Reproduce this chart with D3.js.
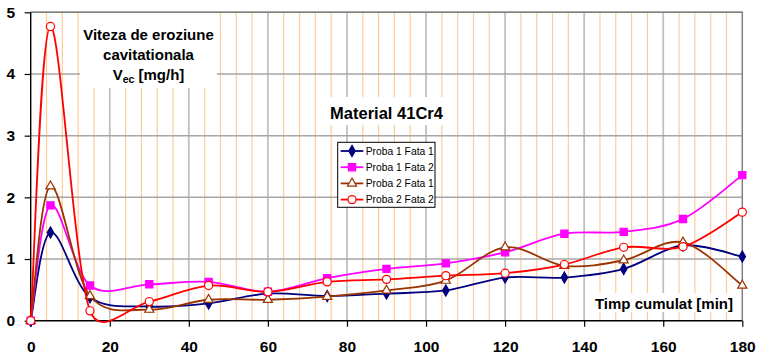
<!DOCTYPE html>
<html>
<head>
<meta charset="utf-8">
<script src="https://cdn.jsdelivr.net/npm/d3@7"></script>
<style>
  body { margin: 0; background: #fff; }
  svg { display: block; font-family: "Liberation Sans", Arial, sans-serif; }
</style>
</head>
<body>
<div id="chart"></div>
<script>
// Données (V_ec en mg/h)
const timp = [0, 5, 15, 30, 45, 60, 75, 90, 105, 120, 135, 150, 165, 180];
const proba1Fata1 = [0, 1.43, 0.38, 0.23, 0.28, 0.44, 0.40, 0.44, 0.49, 0.70, 0.70, 0.84, 1.22, 1.04];
const proba1Fata2 = [0, 1.87, 0.57, 0.59, 0.63, 0.47, 0.69, 0.84, 0.93, 1.11, 1.41, 1.44, 1.65, 2.36];
const proba2Fata1 = [0, 2.18, 0.40, 0.18, 0.34, 0.34, 0.39, 0.49, 0.65, 1.19, 0.89, 0.98, 1.27, 0.57];
const proba2Fata2 = [0, 4.77, 0.16, 0.31, 0.57, 0.47, 0.63, 0.67, 0.73, 0.77, 0.91, 1.19, 1.20, 1.76];

const seriesNames = ["Proba 1 Fata 1", "Proba 1 Fata 2", "Proba 2 Fata 1", "Proba 2 Fata 2"];
const xTicks = d3.range(0, 181, 20);
const yTicks = [0, 1, 2, 3, 4, 5];

(function() {
    const width = 763, height = 358;
    const x = d3.scaleLinear().domain([0, 180]).range([30.7, 742.3]);
    const y = d3.scaleLinear().domain([0, 5]).range([320.7, 12.3]);

    const styles = [
        { color: "#000080", symbol: d3.symbolDiamond, size: 36, fill: "#000080" },
        { color: "#FF00FF", symbol: d3.symbolSquare, size: 52, fill: "#FF00FF" },
        { color: "#993300", symbol: d3.symbolTriangle, size: 36, fill: "#fff" },
        { color: "#FF0000", symbol: d3.symbolCircle, size: 52, fill: "#fff" }
    ];
    const allSeries = [proba1Fata1, proba1Fata2, proba2Fata1, proba2Fata2].map((vals, i) => ({
        name: seriesNames[i],
        style: styles[i],
        points: timp.map((t, j) => ({ t: t, v: vals[j] }))
    }));

    const svg = d3.select("#chart").append("svg")
        .attr("width", width)
        .attr("height", height);

    svg.append("rect").attr("width", width).attr("height", height).attr("fill", "#fff");

    const x0 = x.range()[0], x1 = x.range()[1];
    const yTop = y.range()[1], yBot = y.range()[0];

    // Grille secondaire (orange) toutes les 4 minutes
    svg.append("g")
        .selectAll("line")
        .data(d3.range(4, 180, 4).filter(v => v % 20 !== 0))
        .join("line")
        .attr("x1", d => x(d)).attr("x2", d => x(d))
        .attr("y1", yTop).attr("y2", yBot)
        .attr("stroke", "#FFCC99")
        .attr("stroke-width", 1.2);

    // Grille principale (gris)
    svg.append("g")
        .selectAll("line")
        .data(xTicks.filter(v => v > 0 && v < 180))
        .join("line")
        .attr("x1", d => x(d)).attr("x2", d => x(d))
        .attr("y1", yTop).attr("y2", yBot)
        .attr("stroke", "#C0C0C0")
        .attr("stroke-width", 1.8);

    svg.append("g")
        .selectAll("line")
        .data(yTicks.filter(v => v > 0))
        .join("line")
        .attr("x1", x0).attr("x2", x1)
        .attr("y1", d => y(d)).attr("y2", d => y(d))
        .attr("stroke", "#A6A6A6")
        .attr("stroke-width", 1.5);

    // Cadre haut / droite
    svg.append("path")
        .attr("d", `M${x0},${yTop}H${x1}V${yBot}`)
        .attr("fill", "none")
        .attr("stroke", "#808080")
        .attr("stroke-width", 1.5);

    // Boîtes blanches des titres
    svg.append("rect").attr("x", 80).attr("y", 13).attr("width", 137).attr("height", 75).attr("fill", "#fff");
    svg.append("rect").attr("x", 327).attr("y", 97).attr("width", 120).attr("height", 28).attr("fill", "#fff");
    svg.append("rect").attr("x", 593).attr("y", 293).attr("width", 142).attr("height", 19).attr("fill", "#fff");

    // Axes
    const xAxis = svg.append("g")
        .attr("transform", `translate(0,${yBot})`)
        .call(d3.axisBottom(x).tickValues(xTicks).tickFormat(d3.format("d")).tickSize(6).tickPadding(14.5));
    const yAxis = svg.append("g")
        .attr("transform", `translate(${x0},0)`)
        .call(d3.axisLeft(y).tickValues(yTicks).tickFormat(d3.format("d")).tickSize(6).tickPadding(9.5));
    [xAxis, yAxis].forEach(ax => {
        ax.select(".domain").attr("stroke", "#000").attr("stroke-width", 1.4);
        ax.selectAll(".tick line").attr("stroke", "#000").attr("stroke-width", 1.2);
        ax.selectAll(".tick text")
            .attr("fill", "#000")
            .style("font-family", "'Liberation Sans', Arial, sans-serif")
            .style("font-size", "15.5px")
            .style("font-weight", "bold");
    });
    yAxis.select(".domain").attr("d", `M0,${yTop}V${yBot}`);
    xAxis.select(".domain").attr("d", `M${x0},0H${x1}`);

    // Courbe lissée façon Excel (Bézier, points de contrôle à 1/6, limités à la moitié du segment)
    function smoothPath(pts) {
        const p = pts.map(d => [x(d.t), y(d.v)]);
        const path = d3.path();
        path.moveTo(p[0][0], p[0][1]);
        for (let i = 0; i < p.length - 1; i++) {
            const a = p[Math.max(0, i - 1)], b = p[i], c = p[i + 1], e = p[Math.min(p.length - 1, i + 2)];
            const seg = Math.hypot(c[0] - b[0], c[1] - b[1]);
            let t1 = [(c[0] - a[0]) / 6, (c[1] - a[1]) / 6];
            let t2 = [(e[0] - b[0]) / 6, (e[1] - b[1]) / 6];
            const l1 = Math.hypot(t1[0], t1[1]), l2 = Math.hypot(t2[0], t2[1]);
            if (l1 > seg / 2) { t1 = [t1[0] * seg / 2 / l1, t1[1] * seg / 2 / l1]; }
            if (l2 > seg / 2) { t2 = [t2[0] * seg / 2 / l2, t2[1] * seg / 2 / l2]; }
            path.bezierCurveTo(b[0] + t1[0], b[1] + t1[1], c[0] - t2[0], c[1] - t2[1], c[0], c[1]);
        }
        return path.toString();
    }

    const seriesG = svg.append("g")
        .selectAll("g")
        .data(allSeries)
        .join("g");

    seriesG.append("path")
        .attr("d", d => smoothPath(d.points))
        .attr("fill", "none")
        .attr("stroke", d => d.style.color)
        .attr("stroke-width", 1.8);

    seriesG.each(function(s) {
        d3.select(this).selectAll("path.marker")
            .data(s.points)
            .join("path")
            .attr("class", "marker")
            .attr("transform", d => `translate(${x(d.t)},${y(d.v)})`)
            .attr("d", d3.symbol().type(s.style.symbol).size(s.style.size))
            .attr("fill", s.style.fill)
            .attr("stroke", s.style.color)
            .attr("stroke-width", 1.2);
    });

    // Titres
    const title = svg.append("text")
        .attr("text-anchor", "middle")
        .style("font-size", "15px")
        .style("font-weight", "bold");
    title.append("tspan").attr("x", 148.5).attr("y", 40).text("Viteza de eroziune");
    title.append("tspan").attr("x", 148.5).attr("y", 59.5).text("cavitationala");
    const l3 = title.append("tspan").attr("x", 148.5).attr("y", 79.5);
    l3.append("tspan").text("V");
    l3.append("tspan").attr("dy", 3).style("font-size", "10.5px").text("ec");
    l3.append("tspan").attr("dy", -3).text(" [mg/h]");

    svg.append("text")
        .attr("x", 386.5).attr("y", 119.3)
        .attr("text-anchor", "middle")
        .style("font-size", "16.5px")
        .style("font-weight", "bold")
        .text("Material 41Cr4");

    svg.append("text")
        .attr("x", 664).attr("y", 309.3)
        .attr("text-anchor", "middle")
        .style("font-size", "15px")
        .style("font-weight", "bold")
        .text("Timp cumulat [min]");

    // Légende
    const legend = svg.append("g");
    legend.append("rect")
        .attr("x", 337.7).attr("y", 142.3)
        .attr("width", 97.3).attr("height", 65)
        .attr("fill", "#fff")
        .attr("stroke", "#000")
        .attr("stroke-width", 1);
    const items = legend.selectAll("g.item")
        .data(allSeries)
        .join("g")
        .attr("class", "item")
        .attr("transform", (d, i) => `translate(0,${151 + i * 16.2})`);
    items.append("line")
        .attr("x1", 340.7).attr("x2", 363.3)
        .attr("stroke", d => d.style.color)
        .attr("stroke-width", 1.8);
    items.append("path")
        .attr("transform", "translate(352,0)")
        .attr("d", d => d3.symbol().type(d.style.symbol).size(d.style.size)())
        .attr("fill", d => d.style.fill)
        .attr("stroke", d => d.style.color)
        .attr("stroke-width", 1.2);
    items.append("text")
        .attr("x", 365.7).attr("dy", "0.35em")
        .style("font-size", "10.3px")
        .text(d => d.name);
})();
</script>
</body>
</html>
